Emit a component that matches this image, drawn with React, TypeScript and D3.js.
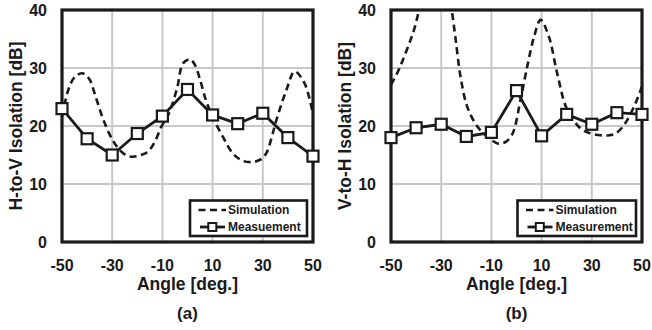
import React from "react";
import * as d3 from "d3";

const angles = [-50, -40, -30, -20, -10, 0, 10, 20, 30, 40, 50];
const measA = [23.0, 17.8, 15.0, 18.7, 21.7, 26.3, 21.9, 20.4, 22.2, 18.0, 14.8];
const measB = [18.0, 19.7, 20.3, 18.2, 18.9, 26.1, 18.3, 22.0, 20.3, 22.3, 22.0];

const simAngleA = [-50, -47.5, -45, -42, -39, -37, -33, -29, -25, -22, -18.5, -15.7, -13, -10.4, -8, -6.4, -4, -1.8, 1, 3, 5, 7.3, 10, 14, 18, 22, 26, 29, 31.4, 33.5, 35.4, 39.4, 42.7, 46.6, 50];
const simValA = [21.6, 26.2, 28.4, 29.1, 28.0, 25.6, 20.5, 17.0, 15.1, 14.7, 15.0, 15.6, 17.3, 19.9, 21.6, 23.3, 26.8, 30.8, 31.5, 30.5, 28.0, 24.5, 21.6, 18.2, 15.3, 14.0, 13.8, 14.2, 15.3, 18.0, 21.0, 26.2, 29.4, 27.4, 22.0];

const simAngleB = [-50, -47, -44.8, -42.5, -40.8, -38.8, -36, -32, -28, -26, -25.6, -24.2, -22.3, -19.6, -15.6, -11.6, -7.6, -5, -2.5, -1, 1.6, 4.3, 7, 9.6, 12.9, 16.2, 20.2, 25.5, 29, 33.5, 37, 39.5, 42, 44.1, 47.4, 50];
const simValB = [27.1, 29.6, 31.9, 34.5, 36.6, 40.0, 45.0, 48.0, 45.0, 40.5, 39.4, 34.8, 28.5, 23.3, 19.9, 18.2, 17.0, 17.1, 18.0, 19.3, 24.5, 30.3, 35.4, 38.3, 35.4, 29.1, 22.8, 19.6, 18.8, 18.4, 18.4, 18.7, 19.7, 21.0, 23.9, 26.8];

const xTicks = [-50, -30, -10, 10, 30, 50];
const yTicks = [0, 10, 20, 30, 40];
const gridX = [-30, -10, 10, 30];
const gridY = [10, 20, 30];

const FONT = "'Liberation Sans', Arial, sans-serif";

type PanelProps = {
  id: string;
  x0: number;
  x1: number;
  yTitle: string;
  label: string;
  meas: number[];
  simA: number[];
  simV: number[];
  legendText: string;
  legendW: number;
};

const Y0 = 10;
const Y1 = 242;

function Panel(p: PanelProps) {
  const x = d3.scaleLinear().domain([-50, 50]).range([p.x0, p.x1]);
  const y = d3.scaleLinear().domain([0, 40]).range([Y1, Y0]);
  const simLine = d3
    .line<number>()
    .x((_, i) => x(p.simA[i]))
    .y((d) => y(d))
    .curve(d3.curveCatmullRom.alpha(0.5));
  const measLine = d3
    .line<number>()
    .x((_, i) => x(angles[i]))
    .y((d) => y(d));
  const cx = (p.x0 + p.x1) / 2;
  const lgRight = p.x1 - 6;
  const lgBottom = Y1 - 6;
  const lgH = 35.5;
  const lgLeft = lgRight - p.legendW;
  const lgTop = lgBottom - lgH;
  const ms = 11;
  return (
    <g>
      <defs>
        <clipPath id={"clip" + p.id}>
          <rect x={p.x0} y={Y0} width={p.x1 - p.x0} height={Y1 - Y0} />
        </clipPath>
      </defs>
      <rect x={p.x0} y={Y0} width={p.x1 - p.x0} height={Y1 - Y0} fill="#fff" />
      {gridX.map((g) => (
        <line key={"gx" + g} x1={x(g)} x2={x(g)} y1={Y0} y2={Y1} stroke="#c8c8c8" strokeWidth={2} />
      ))}
      {gridY.map((g) => (
        <line key={"gy" + g} x1={p.x0} x2={p.x1} y1={y(g)} y2={y(g)} stroke="#c8c8c8" strokeWidth={2} />
      ))}
      <g clipPath={`url(#clip${p.id})`}>
        <path d={simLine(p.simV) || ""} fill="none" stroke="#1a1a1a" strokeWidth={2.6} strokeDasharray="7,4.5" />
        <path d={measLine(p.meas) || ""} fill="none" stroke="#1a1a1a" strokeWidth={2.8} />
      </g>
      <rect x={p.x0} y={Y0} width={p.x1 - p.x0} height={Y1 - Y0} fill="none" stroke="#1a1a1a" strokeWidth={3.2} />
      {p.meas.map((v, i) => (
        <rect
          key={"m" + i}
          x={x(angles[i]) - ms / 2}
          y={y(v) - ms / 2}
          width={ms}
          height={ms}
          fill="#fff"
          stroke="#1a1a1a"
          strokeWidth={2.2}
        />
      ))}
      {xTicks.map((t) => (
        <text key={"xt" + t} x={x(t)} y={271} textAnchor="middle" fontFamily={FONT} fontWeight="bold" fontSize={16} fill="#1a1a1a">
          {t}
        </text>
      ))}
      {yTicks.map((t) => (
        <text key={"yt" + t} x={p.x0 - 15} y={y(t) + 5.5} textAnchor="end" fontFamily={FONT} fontWeight="bold" fontSize={16} fill="#1a1a1a">
          {t}
        </text>
      ))}
      <text x={cx} y={290} textAnchor="middle" fontFamily={FONT} fontWeight="bold" fontSize={17.5} fill="#1a1a1a">
        Angle [deg.]
      </text>
      <text x={cx} y={319} textAnchor="middle" fontFamily={FONT} fontWeight="bold" fontSize={17} fill="#1a1a1a">
        {p.label}
      </text>
      <text
        transform={`translate(${p.x0 - 40},${(Y0 + Y1) / 2}) rotate(-90)`}
        textAnchor="middle"
        fontFamily={FONT}
        fontWeight="bold"
        fontSize={17.5}
        fill="#1a1a1a"
      >
        {p.yTitle}
      </text>
      <rect x={lgLeft} y={lgTop} width={p.legendW} height={lgH} fill="#fff" stroke="#1a1a1a" strokeWidth={2.6} />
      <line x1={lgLeft + 8.5} x2={lgLeft + 36} y1={lgTop + 9.5} y2={lgTop + 9.5} stroke="#1a1a1a" strokeWidth={2.6} strokeDasharray="7,4.5" />
      <line x1={lgLeft + 10} x2={lgLeft + 35} y1={lgTop + 26.5} y2={lgTop + 26.5} stroke="#1a1a1a" strokeWidth={2.8} />
      <rect x={lgLeft + 22.3 - 4} y={lgTop + 26.5 - 4} width={8} height={8} fill="#fff" stroke="#1a1a1a" strokeWidth={2} />
      <text x={lgLeft + 38} y={lgTop + 13.5} fontFamily={FONT} fontWeight="bold" fontSize={12} fill="#1a1a1a">
        Simulation
      </text>
      <text x={lgLeft + 38} y={lgTop + 30.8} fontFamily={FONT} fontWeight="bold" fontSize={12} fill="#1a1a1a">
        {p.legendText}
      </text>
    </g>
  );
}

export default function App() {
  return (
    <svg
      width={652}
      height={330}
      viewBox="0 0 652 330"
      style={{ position: "absolute", left: 0, top: 0, display: "block", background: "#fff" }}
    >
      <rect x={0} y={0} width={652} height={330} fill="#fff" />
      <Panel
        id="a"
        x0={62}
        x1={313}
        yTitle="H-to-V Isolation [dB]"
        label="(a)"
        meas={measA}
        simA={simAngleA}
        simV={simValA}
        legendText="Measuement"
        legendW={117}
      />
      <Panel
        id="b"
        x0={391}
        x1={642}
        yTitle="V-to-H Isolation [dB]"
        label="(b)"
        meas={measB}
        simA={simAngleB}
        simV={simValB}
        legendText="Measurement"
        legendW={118.5}
      />
    </svg>
  );
}
